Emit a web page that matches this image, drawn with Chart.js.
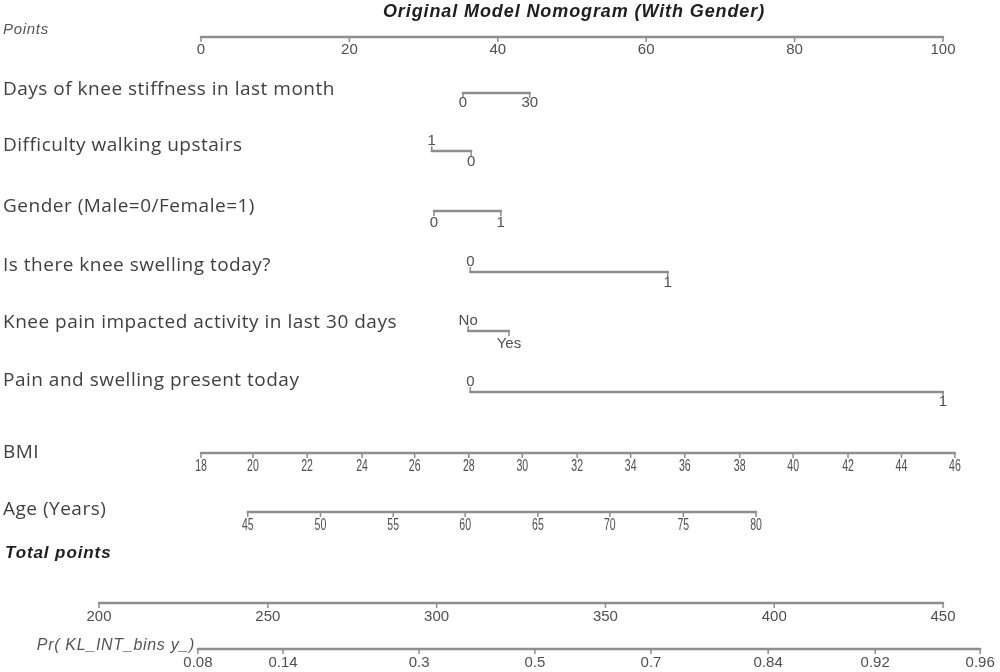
<!DOCTYPE html>
<html>
<head>
<meta charset="utf-8">
<script src="https://cdn.jsdelivr.net/npm/chart.js@4.4.1/dist/chart.umd.min.js"></script>
<style>
  body { margin: 0; background: #fff; }
  #wrap { width: 1000px; height: 672px; position: relative; }
</style>
</head>
<body>
<div id="wrap"><canvas id="nomo"></canvas></div>
<script>
// values (positions on the 0-100 "Points" scale)
const pointsTicks = [0, 20, 40, 60, 80, 100];

const stiffnessLabels = ['0', '30'];
const stiffnessPoints = [35.3, 44.3];

const stairsLabels = ['1', '0'];
const stairsPoints = [31.1, 36.4];

const genderLabels = ['0', '1'];
const genderPoints = [31.4, 40.4];

const swellingLabels = ['0', '1'];
const swellingPoints = [36.3, 62.9];

const impactLabels = ['No', 'Yes'];
const impactPoints = [36.0, 41.5];

const painSwellLabels = ['0', '1'];
const painSwellPoints = [36.3, 100];

const bmiLabels = ['18','20','22','24','26','28','30','32','34','36','38','40','42','44','46'];
const bmiPoints = [0, 7.0, 14.3, 21.7, 28.8, 36.1, 43.3, 50.7, 57.9, 65.2, 72.6, 79.8, 87.2, 94.4, 101.6];

const ageLabels = ['45','50','55','60','65','70','75','80'];
const agePoints = [6.3, 16.1, 25.9, 35.6, 45.4, 55.1, 65.0, 74.8];

// total points axis and the probability scale placed on it
const totalTicks = [200, 250, 300, 350, 400, 450];
const probLabels = ['0.08', '0.14', '0.3', '0.5', '0.7', '0.84', '0.92', '0.96'];
const probTotals = [229.3, 254.5, 294.8, 329.1, 363.5, 398.2, 429.9, 461.0];

// layout: vertical position of each row (y scale runs 0..672 top to bottom)
const rows = [
  { name: 'Points', labels: pointsTicks.map(String), pos: pointsTicks, axis: 'x', lineY: 37, textY: 30, font: 'italic 15px "Liberation Sans"', spacing: '0.7px', color: '#555', up: [], dy: 13 },
  { name: 'Days of knee stiffness in last month', labels: stiffnessLabels, pos: stiffnessPoints, axis: 'x', lineY: 93, textY: 90, up: [], dy: 10 },
  { name: 'Difficulty walking upstairs', labels: stairsLabels, pos: stairsPoints, axis: 'x', lineY: 151, textY: 146, up: [0], dy: 11 },
  { name: 'Gender (Male=0/Female=1)', labels: genderLabels, pos: genderPoints, axis: 'x', lineY: 211, textY: 207, up: [], dy: 12 },
  { name: 'Is there knee swelling today?', labels: swellingLabels, pos: swellingPoints, axis: 'x', lineY: 272, textY: 266, up: [0], dy: 11 },
  { name: 'Knee pain impacted activity in last 30 days', labels: impactLabels, pos: impactPoints, axis: 'x', lineY: 331, textY: 323, up: [0], dy: 13 },
  { name: 'Pain and swelling present today', labels: painSwellLabels, pos: painSwellPoints, axis: 'x', lineY: 392, textY: 381, up: [0], dy: 10 },
  { name: 'BMI', labels: bmiLabels, pos: bmiPoints, axis: 'x', lineY: 453, textY: 453, up: [], dy: 13, narrow: true },
  { name: 'Age (Years)', labels: ageLabels, pos: agePoints, axis: 'x', lineY: 512, textY: 510, up: [], dy: 13, narrow: true },
  { name: '', labels: totalTicks.map(String), pos: totalTicks, axis: 'xt', lineY: 603, textY: 0, up: [], dy: 14 },
  { name: '', labels: probLabels, pos: probTotals, axis: 'xt', lineY: 649, textY: 0, up: [], dy: 14 }
];

const LINE = '#8e8e8e';
const TICK = 5;

const datasets = [];
rows.forEach(r => {
  datasets.push({
    data: [{ x: r.pos[0], y: r.lineY }, { x: r.pos[r.pos.length - 1], y: r.lineY }],
    xAxisID: r.axis,
    borderColor: LINE, borderWidth: 2.5, pointRadius: 0, borderCapStyle: 'round'
  });
  const tk = [];
  r.pos.forEach((p, i) => {
    const dir = r.up.includes(i) ? -1 : 1;
    tk.push({ x: p, y: r.lineY }, { x: p, y: r.lineY + dir * TICK }, { x: p, y: null });
  });
  datasets.push({
    data: tk, xAxisID: r.axis, spanGaps: false,
    borderColor: LINE, borderWidth: 1.5, pointRadius: 0
  });
});

function drawText(ctx, txt, x, y, font, spacing) {
  ctx.font = font;
  ctx.letterSpacing = spacing || '0px';
  ctx.fillText(txt, x, y);
}

const textPlugin = {
  id: 'nomoText',
  afterDatasetsDraw(chart) {
    const ctx = chart.ctx;
    const ys = chart.scales.y;
    ctx.save();
    ctx.textBaseline = 'middle';

    ctx.fillStyle = '#1e1e1e';
    ctx.textAlign = 'center';
    drawText(ctx, 'Original Model Nomogram (With Gender)', 574, ys.getPixelForValue(12), 'italic bold 18px "Liberation Sans"', '0.9px');

    rows.forEach(r => {
      const sc = chart.scales[r.axis];
      if (r.name) {
        ctx.textAlign = 'left';
        ctx.fillStyle = r.color || '#404040';
        drawText(ctx, r.name, 3, ys.getPixelForValue(r.textY), r.font || '19px "Open Sans"', r.spacing || '0.5px');
      }
      ctx.textAlign = 'center';
      ctx.fillStyle = '#4f4f4f';
      r.labels.forEach((lab, i) => {
        const up = r.up.includes(i);
        const px = sc.getPixelForValue(r.pos[i]);
        const py = ys.getPixelForValue(r.lineY + (up ? -10 : r.dy));
        if (r.narrow) {
          ctx.save();
          ctx.translate(px, py);
          ctx.scale(0.62, 1);
          drawText(ctx, lab, 0, 0, '17px "Liberation Sans"');
          ctx.restore();
        } else {
          drawText(ctx, lab, px, py, '15px "Liberation Sans"');
        }
      });
    });

    ctx.textAlign = 'left';
    ctx.fillStyle = '#1e1e1e';
    drawText(ctx, 'Total points', 5, ys.getPixelForValue(553), 'italic bold 17px "Liberation Sans"', '0.9px');

    ctx.textAlign = 'right';
    ctx.fillStyle = '#555';
    drawText(ctx, 'Pr( KL_INT_bins y_)', 195, ys.getPixelForValue(646), 'italic 16px "Liberation Sans"', '0.7px');
    ctx.restore();
  }
};

new Chart(document.getElementById('nomo'), {
  type: 'line',
  data: { datasets: datasets },
  options: {
    responsive: true,
    maintainAspectRatio: false,
    animation: false,
    layout: { padding: 0 },
    plugins: { legend: { display: false }, tooltip: { enabled: false }, title: { display: false } },
    scales: {
      x: { type: 'linear', display: false, min: -27.09, max: 107.68 },
      xt: { type: 'linear', display: false, min: 170.67, max: 466.87 },
      y: { type: 'linear', display: false, min: 0, max: 672, reverse: true }
    }
  },
  plugins: [textPlugin]
});
</script>
</body>
</html>
